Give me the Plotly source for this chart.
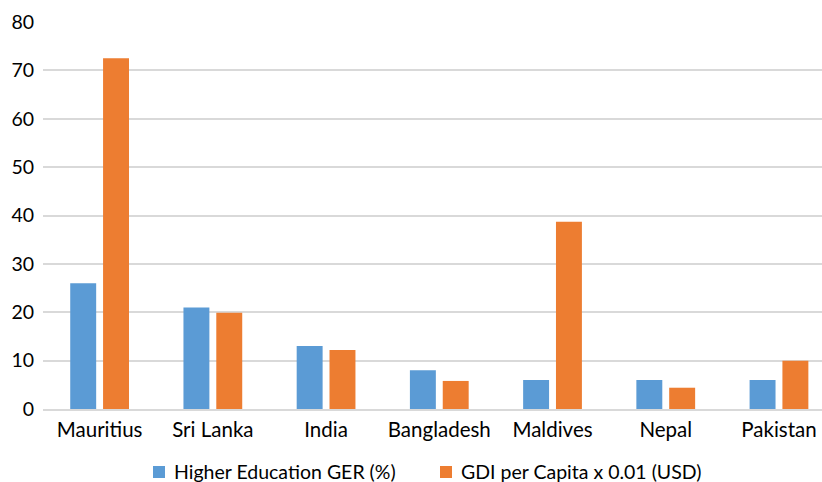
import plotly.graph_objects as go

countries = ["Mauritius", "Sri Lanka", "India", "Bangladesh", "Maldives", "Nepal", "Pakistan"]
ger = [26, 21, 13, 8, 6, 6, 6]
gdi = [72.5, 19.9, 12.2, 5.8, 38.7, 4.4, 10.0]
y_ticks = [0, 10, 20, 30, 40, 50, 60, 70, 80]

series_names = ["Higher Education GER (%)", "GDI per Capita x 0.01 (USD)"]
series_colors = ["#5B9BD5", "#ED7D31"]

FONT = "Lato, 'Open Sans', sans-serif"
W, H = 822, 482
PLOT_L, PLOT_T, PLOT_B = 43, 22, 409   # plot area edges, px

fig = go.Figure()
for vals, name, color in zip([ger, gdi], series_names, series_colors):
    fig.add_trace(go.Bar(x=countries, y=vals, name=name,
                         marker=dict(color=color, line=dict(width=0))))


def dom_x(px):
    return (px - PLOT_L) / (W - PLOT_L)


def dom_y(py):
    return (PLOT_B - py) / (PLOT_B - PLOT_T)


# Legend drawn as colour swatches plus labels along the bottom edge
legend_x = [153, 440]   # swatch left edges, px
legend_y = 472          # legend centre line, px from top
swatch = 12
for lx, name, color in zip(legend_x, series_names, series_colors):
    fig.add_shape(type="rect", xref="x domain", yref="y domain",
                  x0=dom_x(lx), x1=dom_x(lx + swatch),
                  y0=dom_y(legend_y + swatch / 2), y1=dom_y(legend_y - swatch / 2),
                  fillcolor=color, line=dict(width=0))
    fig.add_annotation(xref="x domain", yref="y domain",
                       x=dom_x(lx + 19), y=dom_y(legend_y - 1),
                       text=name, showarrow=False, xanchor="left", yanchor="middle",
                       xshift=0, font=dict(family=FONT, size=19.5, color="#000000"))

fig.update_layout(
    width=W, height=H,
    margin=dict(l=PLOT_L, r=0, t=PLOT_T, b=H - PLOT_B, autoexpand=False),
    paper_bgcolor="white", plot_bgcolor="white",
    barmode="group", bargap=0.42, bargroupgap=0.21,
    font=dict(family=FONT, size=20, color="#000000"),
    showlegend=False,
    xaxis=dict(range=[-0.5, 6.38], showgrid=False, showline=True,
               linecolor="#d9d9d9", linewidth=1.5, ticks="", tickfont=dict(size=20.5),
               ticklabelstandoff=2, automargin=False),
    yaxis=dict(range=[0, 80], tickvals=y_ticks, showgrid=True, gridcolor="#d9d9d9",
               gridwidth=1.5, zeroline=False, showline=False, ticks="",
               tickfont=dict(size=19.5), ticklabelstandoff=8, automargin=False),
)

fig.write_html("out.html")
